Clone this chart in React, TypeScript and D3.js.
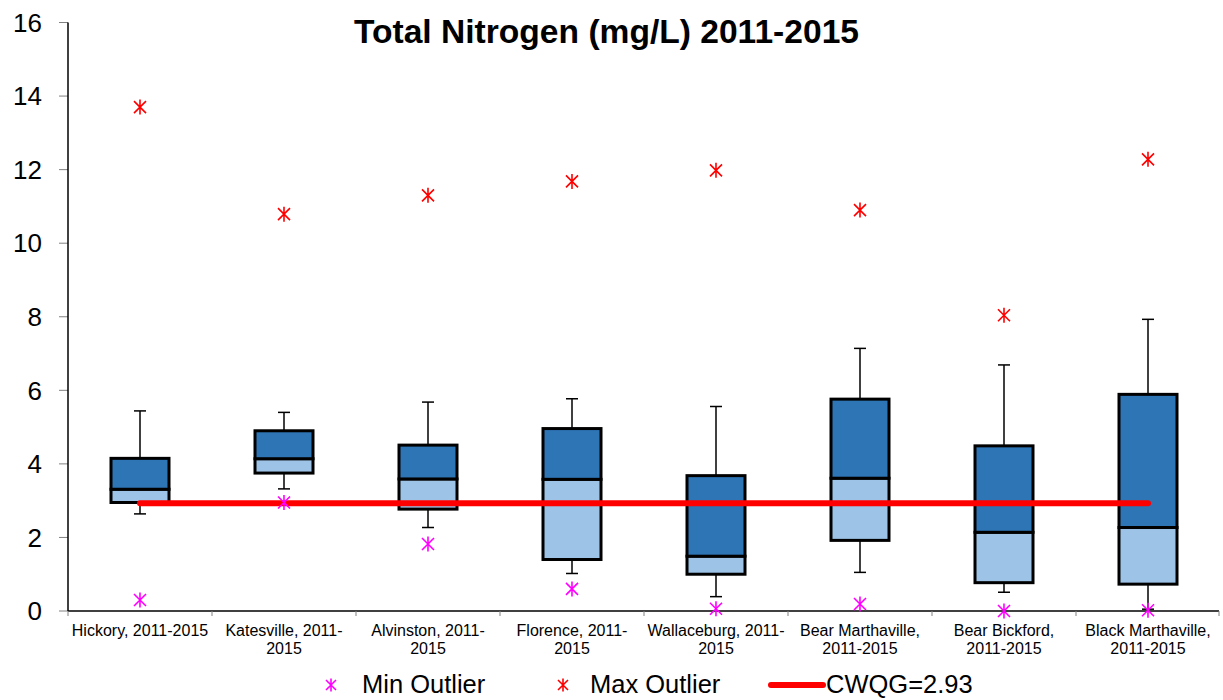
import React from "react";
import * as d3 from "d3";

const categories = [
  ["Hickory, 2011-2015"],
  ["Katesville, 2011-", "2015"],
  ["Alvinston, 2011-", "2015"],
  ["Florence, 2011-", "2015"],
  ["Wallaceburg, 2011-", "2015"],
  ["Bear Marthaville,", "2011-2015"],
  ["Bear Bickford,", "2011-2015"],
  ["Black Marthaville,", "2011-2015"],
];
const whiskerLow = [2.64, 3.32, 2.27, 1.02, 0.39, 1.05, 0.51, 0.05];
const q1 = [2.95, 3.75, 2.77, 1.4, 1.0, 1.92, 0.77, 0.73];
const median = [3.31, 4.14, 3.59, 3.58, 1.49, 3.61, 2.14, 2.27];
const q3 = [4.15, 4.9, 4.51, 4.96, 3.68, 5.76, 4.49, 5.89];
const whiskerHigh = [5.44, 5.4, 5.68, 5.77, 5.56, 7.14, 6.69, 7.93];
const minOutlier = [0.3, 2.95, 1.82, 0.6, 0.06, 0.19, 0.0, 0.02];
const maxOutlier = [13.7, 10.79, 11.3, 11.68, 11.98, 10.9, 8.04, 12.28];
const cwqg = 2.93;
const yTicks = [0, 2, 4, 6, 8, 10, 12, 14, 16];

const FONT = "'Liberation Sans', Arial, sans-serif";

function Star({ x, y, color, s = 6 }: { x: number; y: number; color: string; s?: number }) {
  return (
    <path
      d={`M${x - s},${y - s}L${x + s},${y + s}M${x - s},${y + s}L${x + s},${y - s}M${x},${y - s - 1.5}L${x},${y + s + 1.5}`}
      stroke={color}
      strokeWidth={1.6}
      fill="none"
    />
  );
}

export default function App() {
  const width = 1223;
  const height = 700;
  const left = 68;
  const right = 1220;
  const top = 22.5;
  const bottom = 611;

  const x = d3.scaleBand<number>().domain(d3.range(categories.length)).range([left, right]);
  const y = d3.scaleLinear().domain([0, 16]).range([bottom, top]);
  const bw = 58;
  const capW = 12;
  const cx = (i: number) => (x(i) as number) + x.bandwidth() / 2;

  return (
    <svg
      width={width}
      height={height}
      style={{ position: "absolute", left: 0, top: 0, background: "#fff" }}
      fontFamily={FONT}
    >
      <text x={606.5} y={43} textAnchor="middle" fontSize={33.6} fontWeight="bold" fill="#000">
        Total Nitrogen (mg/L) 2011-2015
      </text>

      {/* y ticks */}
      {yTicks.map((t) => (
        <g key={t}>
          <line x1={left - 9} x2={left} y1={y(t)} y2={y(t)} stroke="#808080" strokeWidth={1} />
          <text x={42} y={y(t) + 9.3} textAnchor="end" fontSize={26} fill="#000">
            {t}
          </text>
        </g>
      ))}

      {/* whiskers */}
      {categories.map((_, i) => (
        <g key={"w" + i}>
          <line x1={cx(i)} x2={cx(i)} y1={y(whiskerHigh[i])} y2={y(q3[i])} stroke="#000" strokeWidth={1.5} />
          <line x1={cx(i)} x2={cx(i)} y1={y(q1[i])} y2={y(whiskerLow[i])} stroke="#000" strokeWidth={1.5} />
          <line x1={cx(i) - capW / 2} x2={cx(i) + capW / 2} y1={y(whiskerHigh[i])} y2={y(whiskerHigh[i])} stroke="#000" strokeWidth={1.5} />
          <line x1={cx(i) - capW / 2} x2={cx(i) + capW / 2} y1={y(whiskerLow[i])} y2={y(whiskerLow[i])} stroke="#000" strokeWidth={1.5} />
        </g>
      ))}

      {/* boxes */}
      {categories.map((_, i) => (
        <g key={"b" + i}>
          <rect
            x={cx(i) - bw / 2}
            y={y(median[i])}
            width={bw}
            height={y(q1[i]) - y(median[i])}
            fill="#9DC3E6"
            stroke="#000"
            strokeWidth={3}
          />
          <rect
            x={cx(i) - bw / 2}
            y={y(q3[i])}
            width={bw}
            height={y(median[i]) - y(q3[i])}
            fill="#2E75B6"
            stroke="#000"
            strokeWidth={3}
          />
        </g>
      ))}

      {/* CWQG */}
      <line
        x1={cx(0)}
        x2={cx(categories.length - 1)}
        y1={y(cwqg)}
        y2={y(cwqg)}
        stroke="#FF0000"
        strokeWidth={6}
        strokeLinecap="round"
      />

      {/* axes */}
      <line x1={left} x2={left} y1={top} y2={bottom} stroke="#000" strokeWidth={1.5} />
      <line x1={left} x2={right - 1} y1={bottom} y2={bottom} stroke="#000" strokeWidth={1.5} />
      {d3.range(categories.length + 1).map((i) => {
        const xx = i < categories.length ? (x(i) as number) : right - 1;
        return <line key={"xt" + i} x1={xx} x2={xx} y1={bottom} y2={bottom + 5} stroke="#808080" strokeWidth={1} />;
      })}

      {/* outliers */}
      {categories.map((_, i) => (
        <g key={"o" + i}>
          <Star x={cx(i)} y={y(minOutlier[i])} color="#FF00FF" />
          <Star x={cx(i)} y={y(maxOutlier[i])} color="#FF0000" />
        </g>
      ))}

      {/* x labels */}
      {categories.map((lines, i) => (
        <text key={"l" + i} textAnchor="middle" fontSize={16} fill="#000">
          {lines.map((ln, j) => (
            <tspan key={j} x={cx(i)} y={636 + j * 17.5}>
              {ln}
            </tspan>
          ))}
        </text>
      ))}

      {/* legend */}
      <Star x={331} y={685} color="#FF00FF" s={5} />
      <text x={362} y={693} fontSize={25.5} fill="#000">Min Outlier</text>
      <Star x={563} y={685} color="#FF0000" s={5} />
      <text x={590} y={693} fontSize={25.5} fill="#000">Max Outlier</text>
      <line x1={771} x2={823} y1={685} y2={685} stroke="#FF0000" strokeWidth={6} strokeLinecap="round" />
      <text x={826} y={693} fontSize={25.5} fill="#000">CWQG=2.93</text>
    </svg>
  );
}
